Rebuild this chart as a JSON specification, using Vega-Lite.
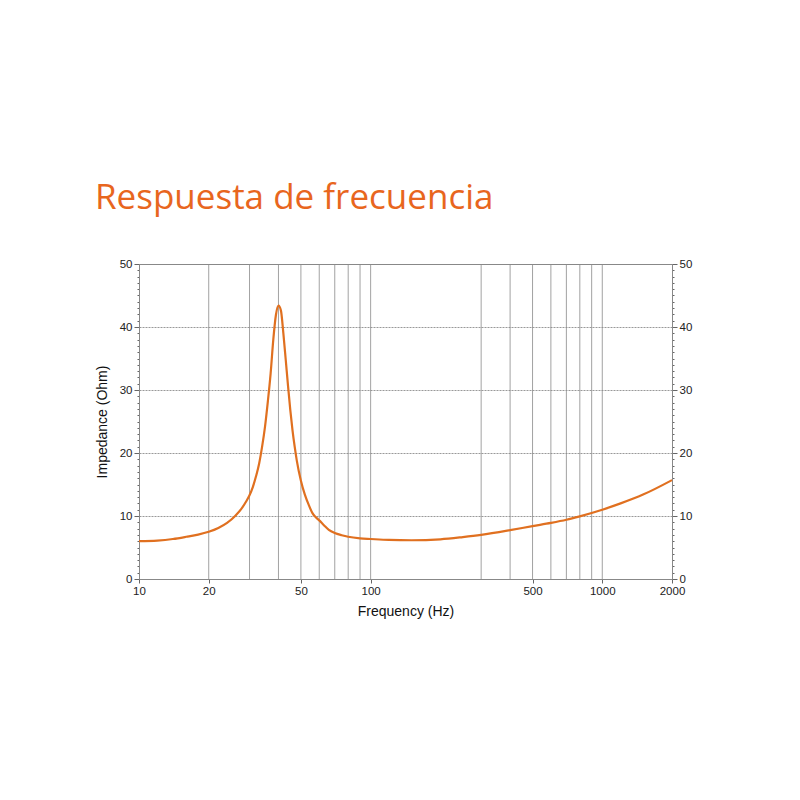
{
  "$schema": "https://vega.github.io/schema/vega-lite/v6.json",
  "autosize": "none",
  "width": 533,
  "height": 315,
  "padding": {"left": 139, "top": 264, "right": 128, "bottom": 221},
  "background": "white",
  "title": {
    "text": "Respuesta de frecuencia",
    "anchor": "start",
    "frame": "group",
    "orient": "top",
    "dx": -44,
    "offset": 42,
    "font": "Open Sans",
    "fontSize": 35,
    "fontWeight": "normal",
    "color": "#E8661E"
  },
  "config": {
    "view": {"stroke": "#888", "strokeWidth": 1},
    "axis": {
      "labelFont": "Liberation Sans",
      "titleFont": "Liberation Sans",
      "labelFontSize": 11.5,
      "titleFontSize": 14,
      "titleFontWeight": "normal",
      "labelColor": "#222",
      "titleColor": "#111",
      "domainColor": "#888",
      "tickColor": "#666"
    }
  },
  "datasets": {
    "grid": [
      {"f": 20}, {"f": 30}, {"f": 40}, {"f": 50}, {"f": 60}, {"f": 70}, {"f": 80}, {"f": 90}, {"f": 100},
      {"f": 300}, {"f": 400}, {"f": 500}, {"f": 600}, {"f": 700}, {"f": 800}, {"f": 900}, {"f": 1000}
    ],
    "curve": [
      {"f": 10, "z": 6.0},
      {"f": 12, "z": 6.1},
      {"f": 14, "z": 6.35},
      {"f": 16, "z": 6.7},
      {"f": 18, "z": 7.05},
      {"f": 20, "z": 7.5},
      {"f": 22, "z": 8.1},
      {"f": 24, "z": 8.9},
      {"f": 26, "z": 10.0},
      {"f": 28, "z": 11.4},
      {"f": 29, "z": 12.3},
      {"f": 30, "z": 13.3},
      {"f": 31, "z": 14.6},
      {"f": 32, "z": 16.3},
      {"f": 33, "z": 18.3},
      {"f": 34, "z": 21.0},
      {"f": 35, "z": 24.2},
      {"f": 36, "z": 28.2},
      {"f": 37, "z": 32.6},
      {"f": 38, "z": 38.0},
      {"f": 39, "z": 41.9},
      {"f": 40, "z": 43.4},
      {"f": 41, "z": 42.6},
      {"f": 42, "z": 39.0},
      {"f": 43, "z": 34.8},
      {"f": 44, "z": 30.6},
      {"f": 45, "z": 26.8},
      {"f": 46, "z": 23.6},
      {"f": 47, "z": 21.0},
      {"f": 48, "z": 18.8},
      {"f": 50, "z": 15.6},
      {"f": 52, "z": 13.4},
      {"f": 54, "z": 11.8},
      {"f": 56, "z": 10.5},
      {"f": 58, "z": 9.8},
      {"f": 60, "z": 9.3},
      {"f": 63, "z": 8.5},
      {"f": 66, "z": 7.8},
      {"f": 70, "z": 7.3},
      {"f": 75, "z": 6.95},
      {"f": 80, "z": 6.7},
      {"f": 90, "z": 6.45},
      {"f": 100, "z": 6.35},
      {"f": 120, "z": 6.2},
      {"f": 150, "z": 6.15},
      {"f": 200, "z": 6.3},
      {"f": 250, "z": 6.65},
      {"f": 300, "z": 7.0},
      {"f": 400, "z": 7.75},
      {"f": 500, "z": 8.4},
      {"f": 600, "z": 8.9},
      {"f": 700, "z": 9.4},
      {"f": 800, "z": 9.95},
      {"f": 1000, "z": 11.0},
      {"f": 1200, "z": 12.0},
      {"f": 1500, "z": 13.4},
      {"f": 2000, "z": 15.7}
    ]
  },
  "layer": [
    {
      "data": {"name": "grid"},
      "mark": {"type": "rule", "color": "#8a8a8a", "strokeWidth": 0.8},
      "encoding": {
        "x": {"field": "f", "type": "quantitative"}
      }
    },
    {
      "data": {"name": "curve"},
      "mark": {"type": "line", "color": "#E07020", "strokeWidth": 2.2, "interpolate": "monotone"},
      "encoding": {
        "x": {
          "field": "f", "type": "quantitative",
          "scale": {"type": "log", "domain": [10, 2000], "nice": false},
          "axis": {
            "title": "Frequency (Hz)",
            "values": [10, 20, 50, 100, 500, 1000, 2000],
            "format": "d",
            "grid": false,
            "tickSize": 4,
            "labelPadding": 2,
            "titlePadding": 8,
            "labelFlush": false
          }
        },
        "y": {
          "field": "z", "type": "quantitative",
          "scale": {"domain": [0, 50], "nice": false},
          "axis": {
            "title": "Impedance (Ohm)",
            "orient": "left",
            "values": [0,1,2,3,4,5,6,7,8,9,10,11,12,13,14,15,16,17,18,19,20,21,22,23,24,25,26,27,28,29,30,31,32,33,34,35,36,37,38,39,40,41,42,43,44,45,46,47,48,49,50],
            "labelExpr": "datum.value % 10 === 0 ? datum.label : ''",
            "labelOverlap": false,
            "tickSize": {"condition": {"test": "datum.value % 10 === 0", "value": 5}, "value": 2},
            "grid": true,
            "gridColor": "#999",
            "gridDash": [2, 1],
            "gridOpacity": {"condition": {"test": "datum.value % 10 === 0 && datum.value > 0 && datum.value < 50", "value": 1}, "value": 0},
            "labelPadding": 2,
            "titlePadding": 10
          }
        }
      }
    },
    {
      "data": {"name": "curve"},
      "mark": {"type": "line", "opacity": 0},
      "encoding": {
        "x": {"field": "f", "type": "quantitative"},
        "y": {
          "field": "z", "type": "quantitative",
          "axis": {
            "title": null,
            "orient": "right",
            "values": [0,1,2,3,4,5,6,7,8,9,10,11,12,13,14,15,16,17,18,19,20,21,22,23,24,25,26,27,28,29,30,31,32,33,34,35,36,37,38,39,40,41,42,43,44,45,46,47,48,49,50],
            "labelExpr": "datum.value % 10 === 0 ? datum.label : ''",
            "labelOverlap": false,
            "tickSize": {"condition": {"test": "datum.value % 10 === 0", "value": 5}, "value": 2},
            "grid": false,
            "labelPadding": 2
          }
        }
      }
    }
  ],
  "resolve": {"axis": {"y": "independent"}}
}
